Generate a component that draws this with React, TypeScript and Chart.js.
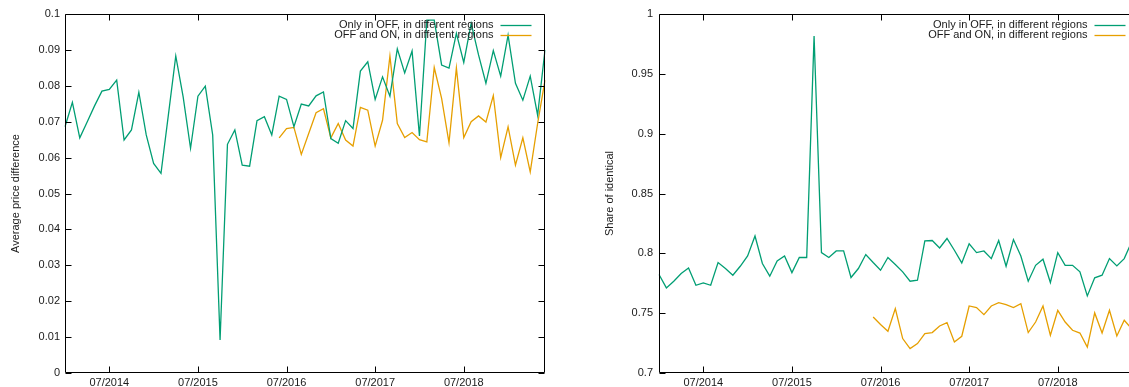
import React, { useEffect, useRef } from 'react';
import { Chart, registerables } from 'chart.js';

Chart.register(...registerables);

const months = [
  '2014-01', '2014-02', '2014-03', '2014-04', '2014-05', '2014-06', '2014-07', '2014-08', '2014-09', '2014-10', '2014-11', '2014-12',
  '2015-01', '2015-02', '2015-03', '2015-04', '2015-05', '2015-06', '2015-07', '2015-08', '2015-09', '2015-10', '2015-11', '2015-12',
  '2016-01', '2016-02', '2016-03', '2016-04', '2016-05', '2016-06', '2016-07', '2016-08', '2016-09', '2016-10', '2016-11', '2016-12',
  '2017-01', '2017-02', '2017-03', '2017-04', '2017-05', '2017-06', '2017-07', '2017-08', '2017-09', '2017-10', '2017-11', '2017-12',
  '2018-01', '2018-02', '2018-03', '2018-04', '2018-05', '2018-06', '2018-07', '2018-08', '2018-09', '2018-10', '2018-11', '2018-12',
  '2019-01', '2019-02', '2019-03', '2019-04', '2019-05', '2019-06',
];

const xTickMonths = ['2014-07', '2015-07', '2016-07', '2017-07', '2018-07'];
const xTickLabels = ['07/2014', '07/2015', '07/2016', '07/2017', '07/2018'];

const seriesLabels = ['Only in OFF, in different regions', 'OFF and ON, in different regions'];
const seriesColors = ['#009e73', '#e69f00'];

const priceOnlyOff = [
  0.0686, 0.0754, 0.0655, 0.0699, 0.0744, 0.0785, 0.0790, 0.0816, 0.0649, 0.0677,
  0.0782, 0.0663, 0.0584, 0.0556, 0.0719, 0.0883, 0.0769, 0.0626, 0.0771, 0.0799,
  0.0663, 0.0092, 0.0637, 0.0677, 0.0579, 0.0576, 0.0703, 0.0714, 0.0663, 0.0771,
  0.0762, 0.0686, 0.0749, 0.0744, 0.0772, 0.0783, 0.0653, 0.0640, 0.0703, 0.0681,
  0.0841, 0.0867, 0.0762, 0.0825, 0.0771, 0.0903, 0.0836, 0.0897, 0.0660, 0.0983,
  0.0983, 0.0858, 0.0849, 0.0946, 0.0865, 0.0974, 0.0886, 0.0807, 0.0898, 0.0827,
  0.0941, 0.0807, 0.0760, 0.0827, 0.0718, 0.0900,
];

const priceOffOn = [
  null, null, null, null, null, null, null, null, null, null,
  null, null, null, null, null, null, null, null, null, null,
  null, null, null, null, null, null, null, null, null,
  0.0655, 0.0681, 0.0684, 0.0609, 0.0667, 0.0725, 0.0736, 0.0655, 0.0695, 0.0649,
  0.0632, 0.0740, 0.0732, 0.0632, 0.0704, 0.0883, 0.0695, 0.0656, 0.0670, 0.0650,
  0.0644, 0.0851, 0.0765, 0.0641, 0.0850, 0.0656, 0.0700, 0.0716, 0.0699, 0.0773,
  0.0600, 0.0686, 0.0579, 0.0655, 0.0560, 0.0695, 0.0816,
];

const shareOnlyOff = [
  0.7823, 0.7711, 0.7767, 0.7831, 0.7878, 0.7733, 0.7753, 0.7733, 0.7923, 0.7873,
  0.7817, 0.7892, 0.7978, 0.8145, 0.7915, 0.7809, 0.7936, 0.7978, 0.7839, 0.7965,
  0.7965, 0.9815, 0.8006, 0.7965, 0.8020, 0.8020, 0.7798, 0.7873, 0.7990, 0.7923,
  0.7859, 0.7965, 0.7906, 0.7845, 0.7767, 0.7775, 0.8104, 0.8107, 0.8045, 0.8124,
  0.8026, 0.7920, 0.8079, 0.8006, 0.8020, 0.7956, 0.8107, 0.7892, 0.8115, 0.7978,
  0.7767, 0.7900, 0.7951, 0.7756, 0.8006, 0.7900, 0.7900, 0.7845, 0.7644, 0.7795,
  0.7817, 0.7956, 0.7895, 0.7956, 0.8095, 0.8050,
];

const shareOffOn = [
  null, null, null, null, null, null, null, null, null, null,
  null, null, null, null, null, null, null, null, null, null,
  null, null, null, null, null, null, null, null, null,
  0.7468, 0.7405, 0.7349, 0.7538, 0.7288, 0.7204, 0.7246, 0.7329, 0.7338, 0.7393,
  0.7421, 0.7259, 0.7307, 0.7560, 0.7547, 0.7488, 0.7560, 0.7588, 0.7572, 0.7547,
  0.7580, 0.7338, 0.7426, 0.7560, 0.7315, 0.7524, 0.7426, 0.7357, 0.7334, 0.7217,
  0.7502, 0.7334, 0.7524, 0.7309, 0.7441, 0.7370, 0.7400,
];

const FONT_FAMILY = '"Liberation Sans", Arial, Helvetica, sans-serif';
const TEXT_COLOR = '#1a1a1a';

const framePlugin = {
  id: 'gnuFrame',
  afterDatasetsDraw(chart: any) {
    const { ctx, chartArea, scales } = chart;
    const { left, right, top, bottom } = chartArea;
    const xs = scales.x;
    const ys = scales.y;
    const tl = 6;
    ctx.save();
    ctx.strokeStyle = '#000';
    ctx.lineWidth = 1;
    const L = Math.round(left) + 0.5;
    const R = Math.round(right) - 0.5;
    const T = Math.round(top) + 0.5;
    const B = Math.round(bottom) - 0.5;
    ctx.beginPath();
    ys.ticks.forEach((t: any) => {
      const py = Math.round(ys.getPixelForValue(t.value)) + 0.5;
      ctx.moveTo(L, py); ctx.lineTo(L + tl, py);
      ctx.moveTo(R, py); ctx.lineTo(R - tl, py);
    });
    xs.ticks.forEach((t: any) => {
      const px = Math.round(xs.getPixelForValue(t.value)) + 0.5;
      ctx.moveTo(px, B); ctx.lineTo(px, B - tl);
      ctx.moveTo(px, T); ctx.lineTo(px, T + tl);
    });
    ctx.stroke();
    ctx.beginPath();
    ctx.rect(L, T, R - L, B - T);
    ctx.stroke();

    // gnuplot-style key, top right inside
    ctx.font = `11px ${FONT_FAMILY}`;
    ctx.textAlign = 'right';
    ctx.textBaseline = 'middle';
    chart.data.datasets.forEach((ds: any, i: number) => {
      const cy = top + 10.5 + i * 10.4;
      ctx.fillStyle = TEXT_COLOR;
      ctx.fillText(ds.label, right - 51.5, cy);
      ctx.strokeStyle = ds.borderColor;
      ctx.lineWidth = 1.3;
      ctx.beginPath();
      ctx.moveTo(right - 44.5, Math.round(cy) + 0.5);
      ctx.lineTo(right - 13.5, Math.round(cy) + 0.5);
      ctx.stroke();
    });
    ctx.restore();
  },
};

type PanelProps = {
  canvasLeft: number;
  canvasWidth: number;
  axisWidth: number;
  padRight: number;
  labelPad: number;
  titlePad: number;
  yMin: number;
  yMax: number;
  yStep: number;
  yTitle: string;
  seriesA: (number | null)[];
  seriesB: (number | null)[];
};

function Panel(p: PanelProps) {
  const ref = useRef<HTMLCanvasElement>(null);
  useEffect(() => {
    if (!ref.current) return;
    const chart = new Chart(ref.current, {
      type: 'line',
      data: {
        labels: months,
        datasets: [
          {
            label: seriesLabels[0],
            data: p.seriesA,
            borderColor: seriesColors[0],
            backgroundColor: seriesColors[0],
            borderWidth: 1.3,
            pointRadius: 0,
            tension: 0,
            fill: false,
            spanGaps: false,
          },
          {
            label: seriesLabels[1],
            data: p.seriesB,
            borderColor: seriesColors[1],
            backgroundColor: seriesColors[1],
            borderWidth: 1.3,
            pointRadius: 0,
            tension: 0,
            fill: false,
            spanGaps: false,
          },
        ],
      },
      options: {
        responsive: false,
        animation: false,
        devicePixelRatio: 1,
        layout: { padding: { left: 0, top: 14, right: p.padRight, bottom: 0 } },
        plugins: {
          legend: { display: false },
          tooltip: { enabled: false },
          title: { display: false },
        },
        scales: {
          x: {
            type: 'category',
            offset: false,
            grid: { display: false, drawTicks: false },
            border: { display: false },
            afterBuildTicks: (scale: any) => {
              scale.ticks = scale.ticks.filter((t: any) => xTickMonths.includes(months[t.value]));
            },
            afterFit: (scale: any) => {
              scale.height = 14;
            },
            ticks: {
              autoSkip: false,
              maxRotation: 0,
              minRotation: 0,
              padding: 3,
              color: TEXT_COLOR,
              font: { family: FONT_FAMILY, size: 11 },
              callback: (value: any) => {
                const idx = xTickMonths.indexOf(months[value as number]);
                return idx >= 0 ? xTickLabels[idx] : '';
              },
            },
          },
          y: {
            type: 'linear',
            min: p.yMin,
            max: p.yMax,
            grid: { display: false, drawTicks: false },
            border: { display: false },
            afterFit: (scale: any) => {
              scale.width = p.axisWidth;
            },
            ticks: {
              stepSize: p.yStep,
              padding: p.labelPad,
              color: TEXT_COLOR,
              font: { family: FONT_FAMILY, size: 11 },
              callback: (value: any) => String(+Number(value).toFixed(4)),
            },
            title: {
              display: true,
              text: p.yTitle,
              color: TEXT_COLOR,
              font: { family: FONT_FAMILY, size: 11 },
              padding: { top: p.titlePad, bottom: 0 },
            },
          },
        },
      },
      plugins: [framePlugin],
    } as any);
    return () => chart.destroy();
  }, []);
  return (
    <canvas
      ref={ref}
      width={p.canvasWidth}
      height={387}
      style={{ position: 'absolute', left: p.canvasLeft, top: 0, width: p.canvasWidth, height: 387, display: 'block' }}
    />
  );
}

export default function App() {
  return (
    <div
      style={{
        position: 'fixed',
        left: 0,
        top: 0,
        width: 1129,
        height: 387,
        overflow: 'hidden',
        background: '#fff',
      }}
    >
      <Panel
        canvasLeft={0}
        canvasWidth={565}
        axisWidth={65}
        padRight={20}
        labelPad={5}
        titlePad={9}
        yMin={0}
        yMax={0.1}
        yStep={0.01}
        yTitle="Average price difference"
        seriesA={priceOnlyOff}
        seriesB={priceOffOn}
      />
      <Panel
        canvasLeft={565}
        canvasWidth={600}
        axisWidth={94}
        padRight={26}
        labelPad={6}
        titlePad={38}
        yMin={0.7}
        yMax={1}
        yStep={0.05}
        yTitle="Share of identical"
        seriesA={shareOnlyOff}
        seriesB={shareOffOn}
      />
    </div>
  );
}
